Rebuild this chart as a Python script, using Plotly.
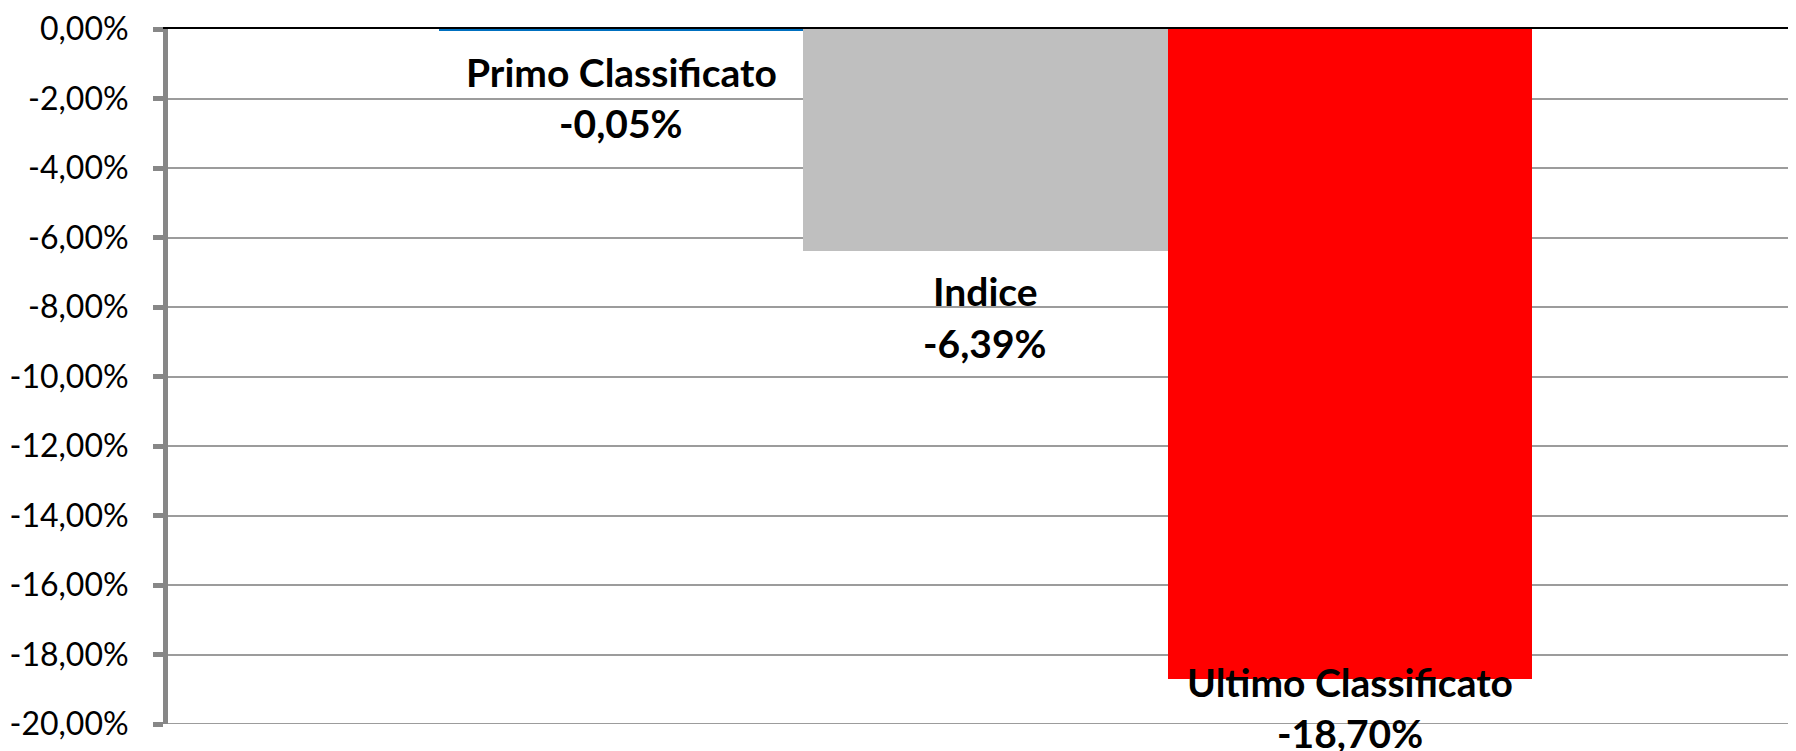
import plotly.graph_objects as go

# ---- data ----
categories = ["Primo Classificato", "Indice", "Ultimo Classificato"]
values = [-0.05, -6.39, -18.70]          # percent
tick_vals = [0, -2, -4, -6, -8, -10, -12, -14, -16, -18, -20]
tick_text = ["0,00%", "-2,00%", "-4,00%", "-6,00%", "-8,00%", "-10,00%",
             "-12,00%", "-14,00%", "-16,00%", "-18,00%", "-20,00%"]

# ---- styles ----
bar_colors = ["#0070C0", "#BFBFBF", "#FF0000"]
name_shift = [-41, -40, -3]     # px offset of the name line centre from the bar end
value_shift = [-92, -92, -54]   # px offset of the value line centre from the bar end
axis_gray = "#878787"
grid_gray = "#9C9C9C"
FONT = "Lato"

def fmt(v):
    return f"{v:.2f}".replace(".", ",") + "%"

fig = go.Figure()
fig.add_trace(go.Bar(
    x=categories, y=values,
    marker=dict(color=bar_colors, line=dict(width=0)),
    showlegend=False, hoverinfo="skip",
))

for c, v, s1, s2 in zip(categories, values, name_shift, value_shift):
    for txt, s in ((c, s1), (fmt(v), s2)):
        fig.add_annotation(
            x=c, y=v, xref="x", yref="y",
            text=f"<b>{txt}</b>",
            showarrow=False, yanchor="middle", xanchor="center",
            yshift=s, align="center",
            font=dict(family=FONT, size=39, color="#000000"),
        )

# bottom gridline (edge of the range)
fig.add_shape(type="line", xref="paper", yref="y", x0=0, x1=1, y0=tick_vals[-1], y1=tick_vals[-1],
              line=dict(color=grid_gray, width=2), layer="below")

fig.update_layout(
    width=1788, height=743,
    margin=dict(l=160, r=0, t=18, b=27),
    paper_bgcolor="white", plot_bgcolor="white",
    bargap=0,
    font=dict(family=FONT, color="#000000"),
    xaxis=dict(
        type="category", side="top",
        range=[-1.244, 3.225],
        showticklabels=False, ticks="",
        showgrid=False, zeroline=False,
        showline=True, linecolor="#000000", linewidth=2,
        fixedrange=True,
    ),
    yaxis=dict(
        range=[-20, 0],
        tickvals=tick_vals, ticktext=tick_text,
        tickfont=dict(family=FONT, size=32, color="#000000"),
        ticks="outside", ticklen=10, tickwidth=5, tickcolor=axis_gray,
        showline=True, linecolor=axis_gray, linewidth=5,
        showgrid=True, gridcolor=grid_gray, gridwidth=2,
        zeroline=False,
        ticklabelstandoff=18,
        ticklabeloverflow="allow",
        fixedrange=True,
    ),
)

fig.write_html("out.html")
